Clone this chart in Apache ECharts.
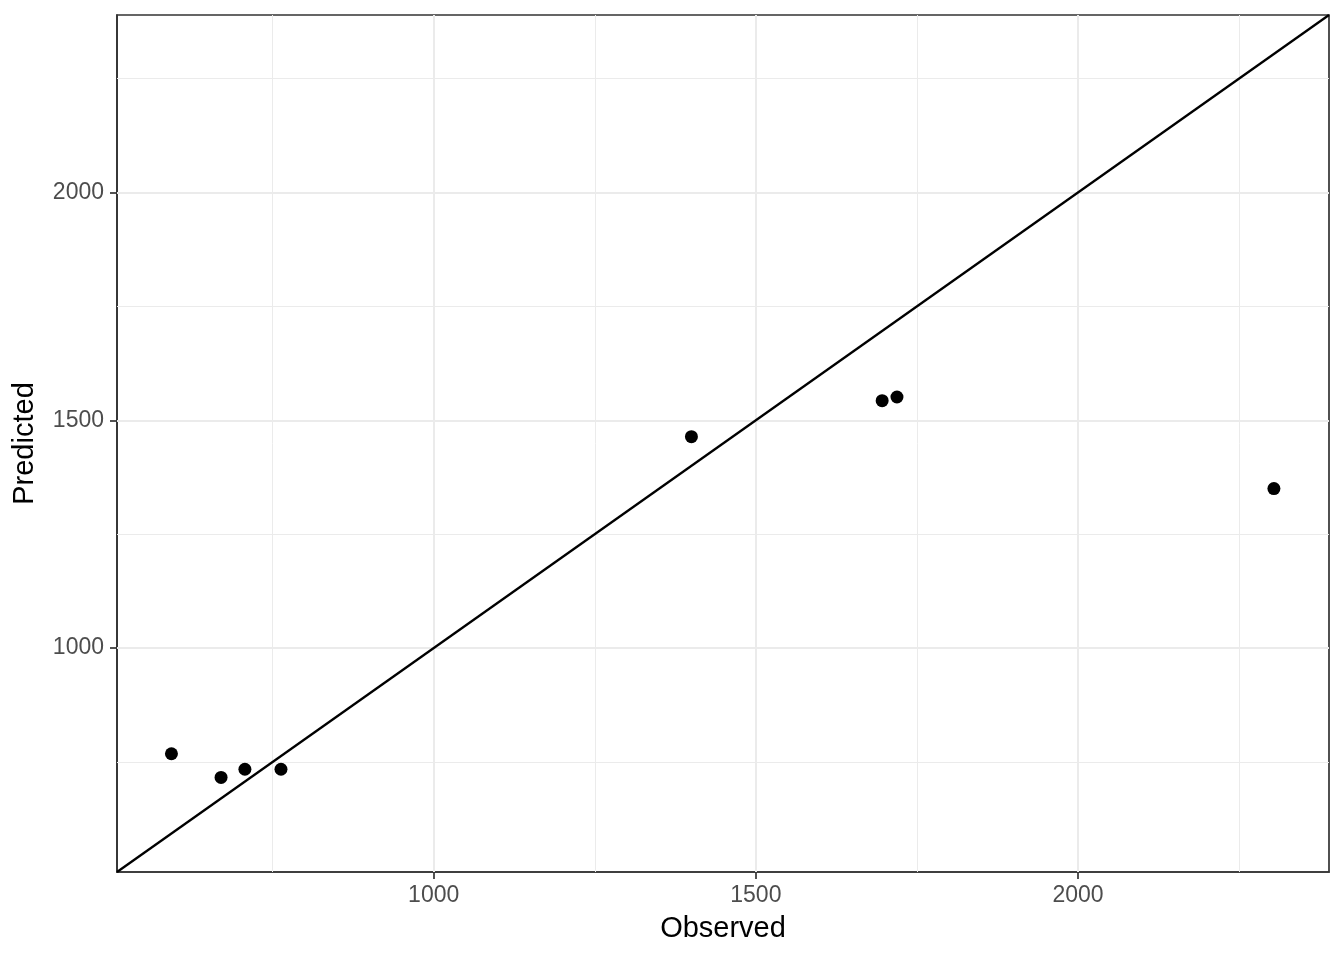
<!DOCTYPE html>
<html>
<head>
<meta charset="utf-8">
<script src="https://cdn.jsdelivr.net/npm/echarts@6/dist/echarts.min.js"></script>
<style>html,body{margin:0;padding:0;background:#fff}#c{width:1344px;height:960px}</style>
</head>
<body>
<div id="c"></div>
<script>
// Data
const observed  = [593, 670, 707, 763, 1400, 1696, 1719, 2304];
const predicted = [768, 716, 734, 734, 1464, 1543, 1551, 1350];
const axisMin = 508.5;
const axisMax = 2389.5;
const majorTicks = [1000, 1500, 2000];
const minorTicks = [750, 1250, 1750, 2250];

const points = observed.map((v, i) => [v, predicted[i]]);
const font = 'Liberation Sans, Arial, Helvetica, sans-serif';

function gridLines(axisKey, vals, width) {
  return vals.map(v => ({ [axisKey]: v, lineStyle: { color: '#ebebeb', width: width, type: 'solid' } }));
}

const axisCommon = (name, gap, labelMargin) => ({
  type: 'value', min: axisMin, max: axisMax,
  name: name, nameLocation: 'middle', nameGap: gap,
  nameTextStyle: { color: '#000', fontSize: 29, fontFamily: font },
  axisLine: { show: true, lineStyle: { color: '#333', width: 1.7 } },
  axisTick: { show: true, length: 7, lineStyle: { color: '#333', width: 1.7 }, customValues: majorTicks },
  axisLabel: { color: '#4d4d4d', fontSize: 23, fontFamily: font, margin: labelMargin, customValues: majorTicks,
               formatter: v => String(v) },
  splitLine: { show: false }
});

const chart = echarts.init(document.getElementById('c'));
chart.setOption({
  backgroundColor: '#ffffff',
  animation: false,
  grid: { left: 117, right: 15, top: 15, bottom: 88, show: true, borderColor: '#333333', borderWidth: 1.7, backgroundColor: 'transparent' },
  xAxis: axisCommon('Observed', 42, 12),
  yAxis: axisCommon('Predicted', 78, 13),
  series: [
    {
      type: 'line', data: [], silent: true,
      markLine: {
        silent: true, symbol: 'none', animation: false, label: { show: false }, z: 1,
        data: [].concat(
          gridLines('xAxis', minorTicks, 1),
          gridLines('yAxis', minorTicks, 1),
          gridLines('xAxis', majorTicks, 2),
          gridLines('yAxis', majorTicks, 2)
        )
      },
      z: 1
    },
    {
      type: 'line', data: [[axisMin, axisMin], [axisMax, axisMax]],
      showSymbol: false, symbol: 'none',
      lineStyle: { color: '#000', width: 2.3 }, z: 3, silent: true
    },
    {
      type: 'scatter', data: points, symbolSize: 13,
      itemStyle: { color: '#000', opacity: 1 }, z: 4
    }
  ]
});
</script>
</body>
</html>
